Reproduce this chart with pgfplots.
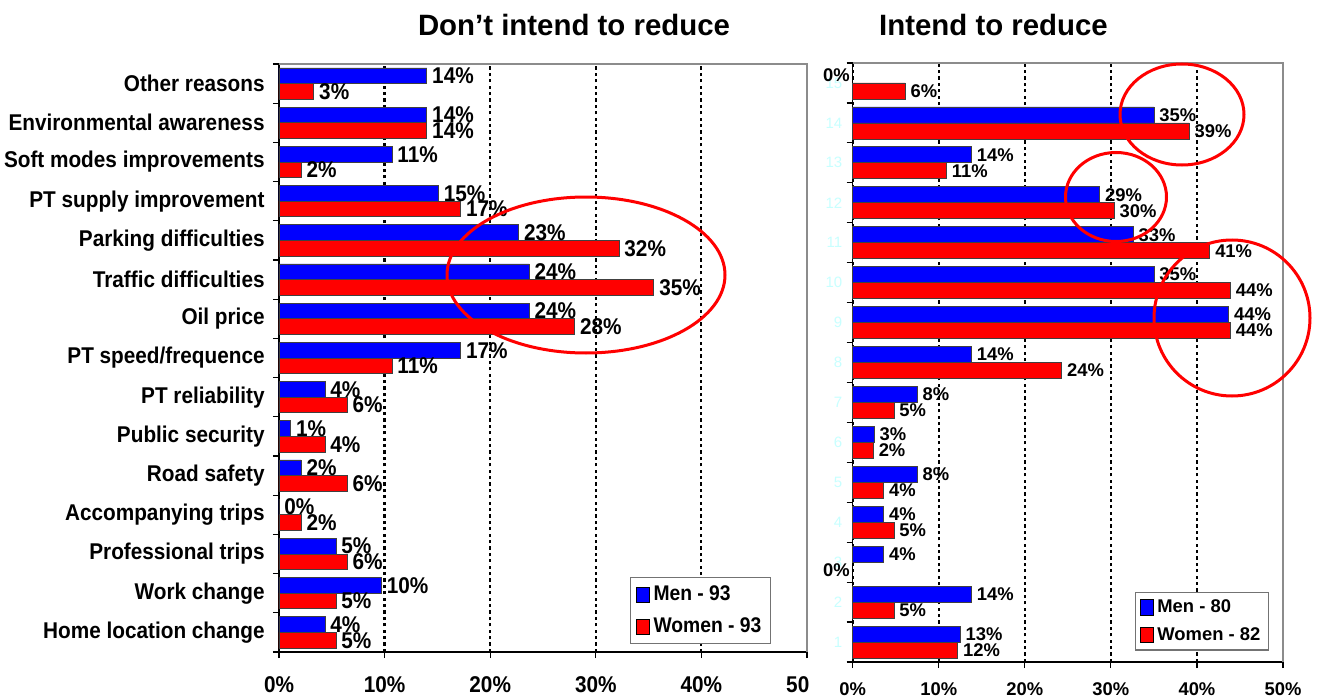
\documentclass[border=0pt]{standalone}
\usepackage{fontspec}
\setmainfont{Liberation Sans}
\newfontfamily\condfont[FakeStretch=0.91]{Liberation Sans}
\usepackage{pgfplots}
\usepackage{pgfplotstable}
\pgfplotsset{compat=1.18}
\definecolor{barblue}{RGB}{0,0,255}
\definecolor{barred}{RGB}{255,0,0}
\definecolor{faintcyan}{RGB}{200,255,255}
\newcommand\lf{\condfont\bfseries\fontsize{11.4}{13}\selectfont}
\newcommand\legf{\condfont\bfseries\fontsize{10.6}{12}\selectfont}
\newcommand\rf{\bfseries\fontsize{9.2}{11}\selectfont}
\newcommand\tf{\bfseries\fontsize{14.7}{17}\selectfont}

% Left chart: Don't intend to reduce (1 = Home location change ... 15 = Other reasons)
\pgfplotstableread{
y x lab
1 4.35 4
2 9.7 10
3 5.4 5
4 0 0
5 2.1 2
6 1.1 1
7 4.35 4
8 17.2 17
9 23.7 24
10 23.7 24
11 22.7 23
12 15.1 15
13 10.7 11
14 14.0 14
15 14.0 14
}\leftmen
\pgfplotstableread{
y x lab
1 5.4 5
2 5.4 5
3 6.45 6
4 2.1 2
5 6.45 6
6 4.35 4
7 6.45 6
8 10.7 11
9 28.0 28
10 35.5 35
11 32.2 32
12 17.2 17
13 2.1 2
14 14.0 14
15 3.3 3
}\leftwomen
% Right chart: Intend to reduce (zero values labelled separately)
\pgfplotstableread{
y x lab
1 12.5 13
2 13.8 14
3 3.6 4
4 3.6 4
5 7.5 8
6 2.5 3
7 7.5 8
8 13.8 14
9 43.7 44
10 35.0 35
11 32.6 33
12 28.7 29
13 13.8 14
14 35.0 35
}\rightmen
\pgfplotstableread{
y x lab
1 12.2 12
2 4.8 5
4 4.8 5
5 3.6 4
6 2.4 2
7 4.8 5
8 24.3 24
9 43.9 44
10 43.9 44
11 41.5 41
12 30.4 30
13 10.9 11
14 39.1 39
15 6.1 6
}\rightwomen

\pgfplotsset{
  mybase/.style={
    scale only axis, anchor=south west,
    xmin=0, xmax=50, ymin=0.5, ymax=15.5,
    xtick={0,10,20,30,40,50},
    xticklabels={0\%,10\%,20\%,30\%,40\%,50\%},
    ytick={0.5,1.5,...,15.5}, y tick label as interval,
    tick align=outside, major tick length=3pt,
    axis x line*=bottom, axis y line*=left,
    axis line style={-, black, line width=0.7pt},
    tick style={black, line width=0.6pt},
    xmajorgrids,
    grid style={black, line width=1.1pt, dash pattern=on 1.6pt off 1.6pt},
    clip=false,
    xbar,
    point meta=explicit symbolic,
    nodes near coords={\pgfplotspointmeta\%},
    every node near coord/.append style={anchor=west, inner xsep=2.5pt, inner ysep=0pt},
    legend cell align=left,
    legend image code/.code={\draw[##1, draw=black, line width=0.4pt] (0pt,-3.8pt) rectangle (6.5pt,3.8pt);},
  },
}

\begin{document}
\begin{tikzpicture}
\path[use as bounding box] (0pt,0pt) rectangle (659.5pt,349pt);

\begin{axis}[mybase,
  at={(139.5pt,23pt)}, width=264pt, height=294pt,
  bar width=7.84pt,
  xticklabel style={font=\lf, inner sep=0pt, yshift=-9pt},
  yticklabel style={font=\lf, inner sep=0pt, xshift=-4pt},
  yticklabels={Home location change, Work change, Professional trips, Accompanying trips, Road safety, Public security, PT reliability, PT speed/frequence, Oil price, Traffic difficulties, Parking difficulties, PT supply improvement, Soft modes improvements, Environmental awareness, Other reasons},
  every node near coord/.append style={font=\lf},
  legend style={at={(0.665,0.0136)}, anchor=south west, draw=black!55, line width=0.6pt,
    font=\legf, row sep=3pt, inner xsep=2.5pt, inner ysep=2pt},
]
\addplot[fill=barblue, draw=black!75, line width=0.4pt, bar shift=3.92pt] table[x=x, y=y, meta=lab] {\leftmen};
\addlegendentry{Men - 93}
\addplot[fill=barred, draw=black!75, line width=0.4pt, bar shift=-3.92pt] table[x=x, y=y, meta=lab] {\leftwomen};
\addlegendentry{Women - 93}
\draw[black!45, line width=0.7pt] (rel axis cs:0,1) -- (rel axis cs:1,1) -- (rel axis cs:1,0);
\end{axis}

\fill[white] (404.5pt,0pt) rectangle (659.5pt,349pt);

\begin{axis}[mybase,
  at={(426.35pt,18pt)}, width=215.15pt, height=299.5pt,
  bar width=8pt,
  xticklabel style={font=\rf, inner sep=0pt, yshift=-7pt},
  yticklabel style={font=\fontsize{7.5}{9}\selectfont, text=faintcyan, inner sep=0pt, xshift=-2pt},
  yticklabels={1,2,3,4,5,6,7,8,9,10,11,12,13,14,15},
  every node near coord/.append style={font=\rf},
  legend style={at={(0.656,0.0189)}, anchor=south west, draw=black!55, line width=0.6pt,
    font=\rf, row sep=2pt, inner xsep=2pt, inner ysep=1.5pt},
]
\addplot[fill=barblue, draw=black!75, line width=0.4pt, bar shift=4pt] table[x=x, y=y, meta=lab] {\rightmen};
\addlegendentry{Men - 80}
\addplot[fill=barred, draw=black!75, line width=0.4pt, bar shift=-4pt] table[x=x, y=y, meta=lab] {\rightwomen};
\addlegendentry{Women - 82}
\draw[black!45, line width=0.7pt] (rel axis cs:0,1) -- (rel axis cs:1,1) -- (rel axis cs:1,0);
\node[anchor=east, inner sep=0pt, xshift=-1.3pt, font=\rf] at (axis cs:0,15.2) {0\%};
\node[anchor=east, inner sep=0pt, xshift=-1.3pt, font=\rf] at (axis cs:0,2.8) {0\%};
\end{axis}

\node[font=\tf] at (287pt,336.5pt) {Don’t intend to reduce};
\node[font=\tf] at (496.75pt,336.5pt) {Intend to reduce};

\draw[barred, line width=1.5pt] (293pt,211.5pt) ellipse [x radius=69.5pt, y radius=39pt];
\draw[barred, line width=1.5pt] (591pt,291.75pt) ellipse [x radius=31pt, y radius=25.25pt];
\draw[barred, line width=1.5pt] (558pt,250.5pt) ellipse [x radius=25.25pt, y radius=22.25pt];
\draw[barred, line width=1.5pt] (616pt,190pt) ellipse [x radius=39pt, y radius=39pt];
\end{tikzpicture}
\end{document}
